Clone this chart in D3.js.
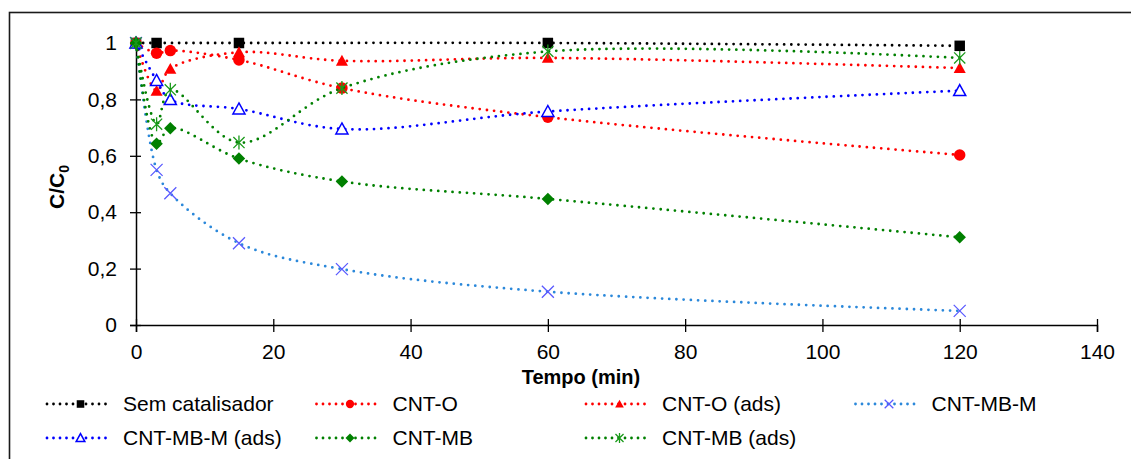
<!DOCTYPE html>
<html lang="pt">
<head>
    <meta charset="UTF-8">
    <title>C/C0 vs Tempo</title>
    <script src="https://cdn.jsdelivr.net/npm/d3@7"></script>
    <style>
        body { margin: 0; background: #fff; }
        text { font-family: "Liberation Sans", Arial, sans-serif; }
    </style>
</head>
<body>
<script>
    // dados
    var tempo = [0, 3, 5, 15, 30, 60, 120];
    var tempoSem = [0, 3, 15, 60, 120];
    var semCatalisador = [1, 1, 1, 1, 0.99];
    var cntO = [1, 0.964, 0.973, 0.94, 0.84, 0.737, 0.603];
    var cntOAds = [1, 0.83, 0.908, 0.967, 0.937, 0.947, 0.911];
    var cntMBM = [1, 0.55, 0.467, 0.29, 0.198, 0.118, 0.05];
    var cntMBMAds = [1, 0.867, 0.799, 0.766, 0.695, 0.757, 0.831];
    var cntMB = [1, 0.643, 0.698, 0.59, 0.509, 0.447, 0.311];
    var cntMBAds = [1, 0.712, 0.834, 0.647, 0.84, 0.97, 0.947];

    var xTicks = [0, 20, 40, 60, 80, 100, 120, 140];
    var yTicks = [0, 0.2, 0.4, 0.6, 0.8, 1];
    var yTickLabels = ['0', '0,2', '0,4', '0,6', '0,8', '1'];

    var width = 1131, height = 459;

    // séries: nome, dados e estilo
    var series = [
        {name: 'Sem catalisador', t: tempoSem, v: semCatalisador, line: '#000', marker: 'square', mcol: '#000'},
        {name: 'CNT-O', t: tempo, v: cntO, line: '#ff0000', marker: 'circle', mcol: '#ff0000'},
        {name: 'CNT-O (ads)', t: tempo, v: cntOAds, line: '#ff0000', marker: 'triangle', mcol: '#ff0000'},
        {name: 'CNT-MB-M', t: tempo, v: cntMBM, line: '#2b88da', marker: 'cross', mcol: '#5a5aff'},
        {name: 'CNT-MB-M (ads)', t: tempo, v: cntMBMAds, line: '#0000ff', marker: 'triangleOpen', mcol: '#0000ff'},
        {name: 'CNT-MB', t: tempo, v: cntMB, line: '#008000', marker: 'diamond', mcol: '#008000'},
        {name: 'CNT-MB (ads)', t: tempo, v: cntMBAds, line: '#008000', marker: 'star', mcol: '#1a9a1a'}
    ];

    var svg = d3.select('body').append('svg')
            .attr('width', width)
            .attr('height', height);

    // moldura
    svg.append('rect')
            .attr('x', 9.5).attr('y', 12.5)
            .attr('width', width + 10).attr('height', height + 10)
            .attr('fill', 'none')
            .attr('stroke', '#1a1a1a')
            .attr('stroke-width', 1.6);

    var x = d3.scaleLinear().domain([0, 140]).range([136, 1097]);
    var y = d3.scaleLinear().domain([0, 1]).range([325, 43]);

    // eixo x
    var gx = svg.append('g')
            .attr('transform', 'translate(0,' + y(0) + ')')
            .call(d3.axisBottom(x).tickValues(xTicks).tickSize(7).tickPadding(12));
    gx.select('.domain').attr('stroke', '#000').attr('stroke-width', 1.5);
    gx.selectAll('.tick line').attr('y1', -6).attr('stroke-width', 1.3);
    gx.selectAll('.tick text')
            .attr('font-size', '21px')
            .attr('font-family', '"Liberation Sans", Arial, sans-serif')
            .attr('fill', '#000');

    // eixo y
    var gy = svg.append('g')
            .attr('transform', 'translate(' + x(0) + ',0)')
            .call(d3.axisLeft(y).tickValues(yTicks)
                    .tickFormat(function(d, i) { return yTickLabels[i]; })
                    .tickSize(6).tickPadding(13));
    gy.select('.domain').attr('stroke', '#000').attr('stroke-width', 1.5);
    gy.selectAll('.tick line').attr('x1', 5).attr('stroke-width', 1.3);
    gy.selectAll('.tick text')
            .attr('font-size', '21px')
            .attr('font-family', '"Liberation Sans", Arial, sans-serif')
            .attr('fill', '#000');

    // títulos dos eixos
    svg.append('text')
            .attr('x', 581).attr('y', 384)
            .attr('text-anchor', 'middle')
            .attr('font-size', '20px')
            .attr('font-weight', 'bold')
            .text('Tempo (min)');

    var yl = svg.append('text')
            .attr('transform', 'translate(64,187) rotate(-90)')
            .attr('text-anchor', 'middle')
            .attr('font-size', '21px')
            .attr('font-weight', 'bold');
    yl.append('tspan').text('C/C');
    yl.append('tspan').attr('font-size', '14px').attr('dy', 5).text('0');

    // marcadores
    function markerPath(type, s) {
        var h = s / 2;
        switch (type) {
            case 'square':
                return 'M' + (-h) + ',' + (-h) + 'H' + h + 'V' + h + 'H' + (-h) + 'Z';
            case 'circle':
                return 'M' + h + ',0A' + h + ',' + h + ' 0 1,1 ' + (-h) + ',0A' + h + ',' + h + ' 0 1,1 ' + h + ',0Z';
            case 'triangle':
            case 'triangleOpen':
                return 'M0,' + (-h * 1.05) + 'L' + (h * 1.05) + ',' + (h * 0.85) + 'L' + (-h * 1.05) + ',' + (h * 0.85) + 'Z';
            case 'diamond':
                return 'M0,' + (-h) + 'L' + h + ',0L0,' + h + 'L' + (-h) + ',0Z';
            case 'cross':
                return 'M' + (-h) + ',' + (-h) + 'L' + h + ',' + h + 'M' + h + ',' + (-h) + 'L' + (-h) + ',' + h;
            case 'star':
                return 'M' + (-h * 0.8) + ',' + (-h * 0.8) + 'L' + (h * 0.8) + ',' + (h * 0.8) +
                        'M' + (h * 0.8) + ',' + (-h * 0.8) + 'L' + (-h * 0.8) + ',' + (h * 0.8) +
                        'M0,' + (-h) + 'L0,' + h;
        }
    }

    var markerSize = {square: 10.5, circle: 11.5, triangle: 11.5, triangleOpen: 11.5, diamond: 12.5, cross: 12, star: 14};

    function styleMarker(sel, s) {
        var open = s.marker === 'cross' || s.marker === 'star' || s.marker === 'triangleOpen';
        sel.attr('fill', s.marker === 'triangleOpen' ? '#fff' : (open ? 'none' : s.mcol))
                .attr('stroke', open ? s.mcol : 'none')
                .attr('stroke-width', s.marker === 'triangleOpen' ? 1.5 : 1.3);
    }

    var line = d3.line()
            .x(function(d) { return x(d[0]); })
            .y(function(d) { return y(d[1]); })
            .curve(d3.curveCatmullRom.alpha(0.5));

    var dots = '0 7.2';

    series.forEach(function(s) {
        var pts = s.t.map(function(t, i) { return [t, s.v[i]]; });
        var g = svg.append('g');
        g.append('path')
                .attr('d', line(pts))
                .attr('fill', 'none')
                .attr('stroke', s.line)
                .attr('stroke-width', 2.8)
                .attr('stroke-linecap', 'round')
                .attr('stroke-dasharray', dots);
        g.selectAll('path.m')
                .data(pts)
                .enter().append('path')
                .attr('class', 'm')
                .attr('transform', function(d) { return 'translate(' + x(d[0]) + ',' + y(d[1]) + ')'; })
                .attr('d', markerPath(s.marker, markerSize[s.marker]))
                .call(styleMarker, s);
    });

    // legenda
    var legX0 = 47, legStep = 269.5, legRow = [404, 438], legLine = 65;
    var leg = svg.selectAll('g.leg')
            .data(series)
            .enter().append('g')
            .attr('class', 'leg')
            .attr('transform', function(d, i) {
                return 'translate(' + (legX0 + (i % 4) * legStep) + ',' + legRow[Math.floor(i / 4)] + ')';
            });
    leg.append('line')
            .attr('x1', 0).attr('x2', legLine)
            .attr('stroke', function(d) { return d.line; })
            .attr('stroke-width', 2.8)
            .attr('stroke-linecap', 'round')
            .attr('stroke-dasharray', '0 6.5');
    leg.append('path')
            .attr('transform', 'translate(' + (legLine / 2 + 1) + ',0)')
            .attr('d', function(d) { return markerPath(d.marker, markerSize[d.marker] * 0.72); })
            .each(function(d) { d3.select(this).call(styleMarker, d); });
    leg.append('text')
            .attr('x', 76)
            .attr('dy', '0.35em')
            .attr('font-size', '21px')
            .attr('fill', '#000')
            .text(function(d) { return d.name; });
</script>
</body>
</html>
